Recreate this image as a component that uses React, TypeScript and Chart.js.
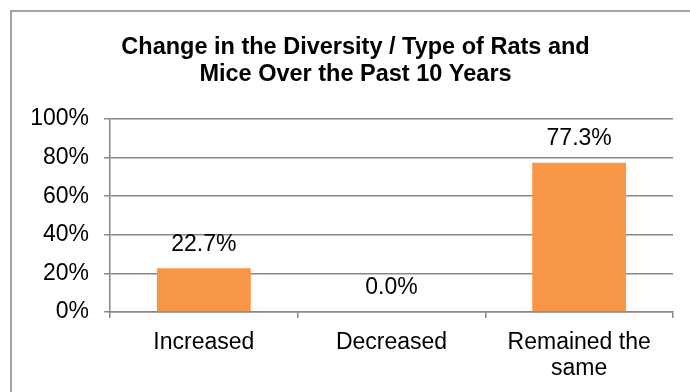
import React, { useEffect, useRef } from "react";
import { Chart, registerables } from "chart.js";

Chart.register(...registerables);

const categories: (string | string[])[] = ["Increased", "Decreased", ["Remained the", "same"]];
const values: number[] = [22.7, 0.0, 77.3];
const titleLines: string[] = ["Change in the Diversity / Type of Rats and", "Mice Over the Past 10 Years"];
const yTicks: number[] = [0, 20, 40, 60, 80, 100];

const FONT = "'Liberation Sans', Arial, sans-serif";
const GRAY = "#878787";

export default function App() {
  const ref = useRef<HTMLCanvasElement | null>(null);

  useEffect(() => {
    if (!ref.current) return;
    const framePlugin = {
      id: "frame",
      beforeDraw(chart: any) {
        const ctx = chart.ctx;
        ctx.save();
        ctx.fillStyle = "#ffffff";
        ctx.fillRect(0, 0, chart.width, chart.height);
        ctx.strokeStyle = GRAY;
        ctx.lineWidth = 1.5;
        ctx.beginPath();
        ctx.moveTo(11, chart.height + 5);
        ctx.lineTo(11, 11);
        ctx.lineTo(chart.width + 5, 11);
        ctx.stroke();
        ctx.fillStyle = "#000000";
        ctx.font = "bold 23.5px " + FONT;
        ctx.textAlign = "center";
        ctx.textBaseline = "alphabetic";
        const cx = 355.5;
        const baselines = [54, 81];
        titleLines.forEach((line, i) => {
          ctx.fillText(line, cx, baselines[i]);
        });
        ctx.restore();
      },
    };
    const labelPlugin = {
      id: "valueLabels",
      afterDatasetsDraw(chart: any) {
        const ctx = chart.ctx;
        const meta = chart.getDatasetMeta(0);
        ctx.save();
        ctx.fillStyle = "#000000";
        ctx.font = "23px " + FONT;
        ctx.textAlign = "center";
        ctx.textBaseline = "middle";
        meta.data.forEach((el: any, i: number) => {
          ctx.fillText(values[i].toFixed(1) + "%", el.x, el.y - 24);
        });
        ctx.restore();
      },
    };
    const chart = new Chart(ref.current, {
      type: "bar",
      data: {
        labels: categories as any,
        datasets: [
          {
            data: values,
            backgroundColor: "#F79646",
            borderWidth: 0,
            barPercentage: 0.5,
            categoryPercentage: 1.0,
          },
        ],
      },
      options: {
        animation: false,
        responsive: false,
        devicePixelRatio: 1,
        layout: { padding: { left: 0, top: 119, right: 17, bottom: 0 } },
        plugins: {
          legend: { display: false },
          title: { display: false },
          tooltip: { enabled: false },
        },
        scales: {
          x: {
            grid: {
              display: true,
              drawOnChartArea: false,
              drawTicks: true,
              tickLength: 6,
              color: GRAY,
              lineWidth: 1.5,
              offset: true,
            },
            border: { display: true, color: GRAY, width: 1.5 },
            ticks: {
              color: "#000000",
              font: { family: FONT, size: 23, lineHeight: 1.12 },
              padding: 12,
              maxRotation: 0,
              autoSkip: false,
            },
            afterFit(scale: any) {
              scale.height = 80;
            },
          },
          y: {
            min: 0,
            max: 100,
            afterBuildTicks(scale: any) {
              scale.ticks = yTicks.map((v) => ({ value: v }));
            },
            grid: {
              display: true,
              drawOnChartArea: true,
              drawTicks: true,
              tickLength: 6,
              color: GRAY,
              lineWidth: 1.5,
            },
            border: { display: true, color: GRAY, width: 1.5 },
            ticks: {
              color: "#000000",
              font: { family: FONT, size: 23 },
              padding: 15,
              callback: (v: any) => v + "%",
            },
            afterFit(scale: any) {
              scale.width = 110;
            },
          },
        },
      },
      plugins: [framePlugin, labelPlugin],
    });
    return () => chart.destroy();
  }, []);

  return (
    <div style={{ position: "fixed", left: 0, top: 0, width: 690, height: 392, background: "#fff" }}>
      <canvas ref={ref} width={690} height={392} style={{ display: "block", width: 690, height: 392 }} />
    </div>
  );
}
